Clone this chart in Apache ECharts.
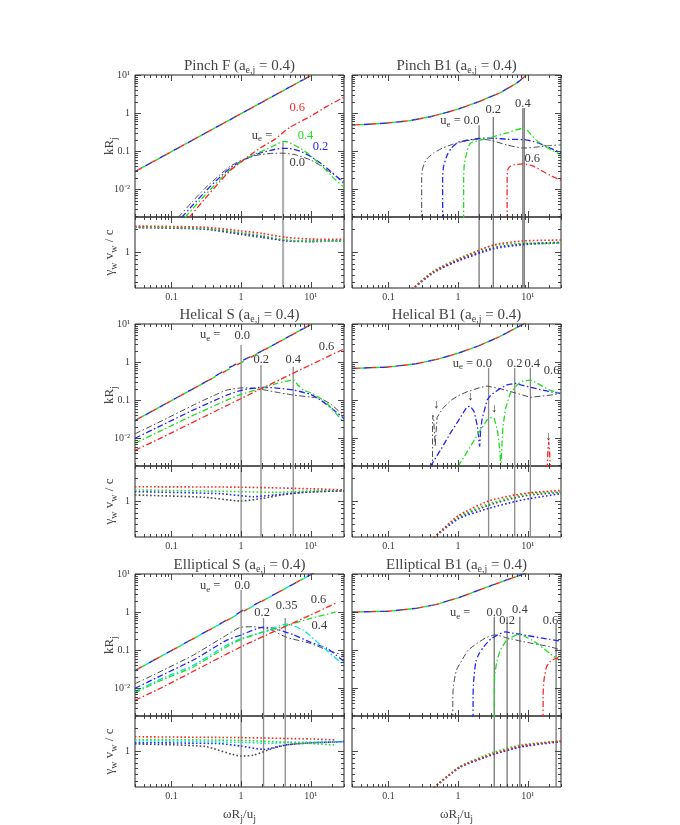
<!DOCTYPE html>
<html><head><meta charset="utf-8">
<script src="https://cdn.jsdelivr.net/npm/echarts@6/dist/echarts.min.js"></script>
<style>html,body{margin:0;padding:0;background:#fff}#c{width:680px;height:825px}</style>
</head><body><div id="c"></div>
<script>
// ---------------- axis ranges / ticks ----------------
const X_MIN = 0.03, X_MAX = 30;
const K_MIN = 0.00185, K_MAX = 10;
const G_MIN = 0.336, G_MAX = 2.89;
const xTickValues = [0.1, 1, 10];
const xTickLabels = ['0.1', '1', '10¹'];
const kTickValues = [0.01, 0.1, 1, 10];
const kTickLabels = ['10⁻²', '0.1', '1', '10¹'];
const gTickValues = [1];
const gTickLabels = ['1'];
const panelNames = ['Pinch F', 'Pinch B1', 'Helical S', 'Helical B1', 'Elliptical S', 'Elliptical B1'];
const aejValue = '0.4';

// ---------------- Pinch F ----------------
const pf_kr = [[0.03,0.029],[0.3,0.29],[3,2.9],[30,29]];
const pf_ki_00 = [[0.125,0.0018],[0.2,0.0047],[0.3,0.0103],[0.5,0.024],[0.7,0.04],[1,0.057],[1.5,0.074],[2,0.082],[3,0.088],[4,0.088],[6,0.08],[10,0.058],[15,0.038],[20,0.026],[30,0.016]];
const pf_ki_02 = [[0.14,0.0018],[0.2,0.0037],[0.3,0.0083],[0.5,0.021],[0.7,0.036],[1,0.054],[1.5,0.076],[2,0.092],[3,0.11],[4,0.118],[5,0.117],[7,0.1],[10,0.072],[15,0.043],[20,0.028],[30,0.014]];
const pf_ki_04 = [[0.156,0.0018],[0.2,0.003],[0.3,0.0068],[0.5,0.018],[0.7,0.033],[1,0.052],[1.5,0.08],[2,0.1],[3,0.14],[4,0.18],[4.5,0.176],[5,0.165],[7,0.12],[10,0.075],[15,0.038],[20,0.022],[30,0.011]];
const pf_ki_06 = [[0.18,0.0018],[0.3,0.0055],[0.5,0.016],[0.7,0.031],[1,0.052],[1.5,0.09],[2,0.13],[3,0.2],[5,0.42],[10,0.83],[17,1.5],[30,2.6]];
const pf_g_00 = [[0.03,2.1],[0.3,2.0],[1,1.7],[2,1.55],[4.4,1.42],[10,1.39],[30,1.41]];
const pf_g_02 = [[0.03,2.12],[0.3,2.02],[1,1.76],[2,1.6],[4.4,1.4],[10,1.37],[30,1.41]];
const pf_g_04 = [[0.03,2.14],[0.3,2.05],[1,1.81],[2,1.65],[4.4,1.44],[10,1.38],[30,1.41]];
const pf_g_06 = [[0.03,2.2],[0.3,2.12],[1,1.9],[2,1.76],[4.4,1.56],[10,1.48],[30,1.47]];
const pf_vlines = [[4.0,0.17]];
const pf_labels = [[2.0,0.26,'u{s|e} =',''],[6.4,1.35,'0.6','0.6'],[8.4,0.26,'0.4','0.4'],[13.8,0.127,'0.2','0.2'],[6.4,0.048,'0.0','']];

// ---------------- Pinch B1 ----------------
const pb_kr = [[0.03,0.48],[0.1,0.55],[0.2,0.63],[0.4,0.8],[0.7,1.05],[1,1.27],[2,2.0],[4,3.4],[7,6.2],[10,10.5],[15,17]];
const pb_ki_00 = [[0.3,0.0015],[0.3,0.02],[0.31,0.035],[0.35,0.06],[0.45,0.09],[0.6,0.12],[0.8,0.147],[1.2,0.18],[2.08,0.207],[3,0.19],[5,0.145],[8.7,0.12],[15,0.13],[21,0.14],[30,0.145]];
const pb_ki_02 = [[0.6,0.0015],[0.6,0.02],[0.62,0.04],[0.7,0.08],[0.8,0.12],[1,0.17],[1.5,0.2],[2,0.215],[3.2,0.22],[5,0.205],[8.7,0.2],[12,0.18],[16.8,0.144],[21,0.12],[30,0.09]];
const pb_ki_04 = [[1.2,0.0015],[1.2,0.02],[1.23,0.045],[1.35,0.1],[1.5,0.16],[2,0.19],[3,0.23],[5,0.3],[8.7,0.4],[10,0.34],[13,0.2],[17.9,0.13],[30,0.08]];
const pb_ki_06 = [[5.05,0.0015],[5.05,0.015],[5.15,0.032],[5.6,0.04],[6.5,0.044],[8.7,0.046],[12,0.04],[21,0.023],[30,0.017]];
const pb_g_00 = [[0.2,0.3],[0.44,0.53],[1.07,0.8],[3.2,1.14],[8.6,1.28],[21,1.33],[30,1.34]];
const pb_g_02 = [[0.2,0.3],[0.44,0.55],[1.07,0.78],[3.2,1.1],[8.6,1.25],[21,1.31],[30,1.33]];
const pb_g_04 = [[0.2,0.3],[0.44,0.56],[1.07,0.84],[3.2,1.22],[8.6,1.3],[21,1.3],[30,1.32]];
const pb_g_06 = [[0.2,0.3],[0.44,0.55],[1.07,0.82],[3.2,1.24],[8.6,1.4],[21,1.43],[30,1.44]];
const pb_vlines = [[2.0,0.48],[3.2,0.785],[8.5,1.35],[8.9,1.35]];
const pb_labels = [[1.06,0.62,'u{s|e} = 0.0',''],[3.2,1.2,'0.2',''],[8.5,1.8,'0.4',''],[11.6,0.064,'0.6','']];

// ---------------- Helical S ----------------
const hs_kr_00 = [[0.03,0.029],[0.35,0.34],[0.6,0.62],[1.0,1.05],[1.5,1.5],[3,2.9],[30,29]];
const hs_kr_02 = [[0.03,0.029],[0.35,0.34],[0.6,0.63],[1.0,1.06],[1.5,1.5],[3,2.9],[30,29]];
const hs_kr_04 = [[0.03,0.029],[0.3,0.29],[3,2.9],[30,29]];
const hs_kr_06 = [[0.03,0.029],[0.3,0.29],[3,2.9],[30,29]];
const hs_ki_00 = [[0.03,0.013],[0.0687,0.027],[0.207,0.074],[0.4,0.13],[0.625,0.183],[1.07,0.21],[1.5,0.205],[2,0.19],[3,0.165],[5.7,0.135],[10,0.12],[13.8,0.11],[20,0.075],[30,0.038]];
const hs_ki_02 = [[0.03,0.0099],[0.0687,0.0207],[0.207,0.055],[0.625,0.135],[1,0.18],[1.89,0.216],[3,0.21],[5.7,0.183],[10,0.14],[13.8,0.1],[20,0.06],[30,0.033]];
const hs_ki_04 = [[0.03,0.0073],[0.0687,0.0153],[0.207,0.04],[0.625,0.1],[1,0.141],[1.9,0.2],[3.3,0.275],[5.7,0.336],[6.5,0.25],[8,0.18],[10,0.155],[15,0.1],[20,0.06],[30,0.025]];
const hs_ki_06 = [[0.03,0.0048],[0.0687,0.0098],[1,0.11],[10,0.85],[30,2.2]];
const hs_g_00 = [[0.03,1.2],[0.3,1.12],[1,1.0],[2,1.08],[5,1.25],[10,1.32],[30,1.36]];
const hs_g_02 = [[0.03,1.33],[0.5,1.25],[1.5,1.14],[3,1.2],[10,1.32],[30,1.36]];
const hs_g_04 = [[0.03,1.4],[1,1.33],[3,1.3],[10,1.36],[30,1.38]];
const hs_g_06 = [[0.03,1.54],[1,1.52],[10,1.45],[30,1.4]];
const hs_vlines = [[1.0,2.8],[1.93,0.83],[5.6,0.75]];
const hs_labels = [[0.36,5.1,'u{s|e} =',''],[1.04,4.8,'0.0',''],[1.95,1.13,'0.2',''],[5.6,1.13,'0.4',''],[16.8,2.5,'0.6','']];

// ---------------- Helical B1 ----------------
const hb_kr = [[0.03,0.68],[0.1,0.74],[0.25,0.9],[0.5,1.18],[1,1.7],[2,2.7],[4,4.7],[8.7,10],[15,17]];
const hb_ki_00 = [[0.43,0.0015],[0.43,0.025],[0.435,0.04],[0.445,0.032],[0.46,0.012],[0.47,0.006],[0.48,0.012],[0.5,0.035],[0.6,0.06],[0.8,0.1],[1.0,0.13],[1.34,0.165],[2,0.21],[2.6,0.234],[4,0.2],[7,0.15],[10.9,0.118],[21,0.135],[30,0.15]];
const hb_ki_02 = [[0.4,0.0018],[0.6,0.006],[0.77,0.0133],[1.0,0.028],[1.2,0.048],[1.34,0.066],[1.5,0.069],[1.7,0.05],[1.9,0.02],[2.04,0.006],[2.1,0.015],[2.2,0.03],[2.6,0.1],[3,0.14],[4,0.2],[5,0.25],[6.6,0.275],[8,0.25],[10.9,0.216],[21,0.166],[30,0.15]];
const hb_ki_04 = [[1.0,0.0018],[1.5,0.006],[2,0.0144],[2.6,0.03],[3.0,0.035],[3.3,0.033],[3.7,0.015],[4.0,0.004],[4.1,0.0015],[4.2,0.004],[4.4,0.02],[4.8,0.06],[5.6,0.15],[7,0.25],[8.5,0.32],[10.9,0.336],[14,0.27],[21,0.18],[30,0.15]];
const hb_ki_06 = [[19,0.0015],[19.5,0.005],[20,0.008],[20.5,0.005],[21,0.002],[21.2,0.0015]];
const hb_g_00 = [[0.45,0.33],[1,0.6],[2.74,0.88],[6.5,1.1],[10.9,1.2],[30,1.3]];
const hb_g_02 = [[0.45,0.33],[1,0.58],[2.74,0.8],[6.5,0.98],[10.9,1.08],[30,1.25]];
const hb_g_04 = [[0.45,0.33],[1,0.62],[2.74,0.92],[6.5,1.15],[10.9,1.26],[30,1.32]];
const hb_g_06 = [[0.45,0.33],[1,0.64],[2.74,1.0],[6.5,1.2],[10.9,1.29],[30,1.38]];
const hb_vlines = [[2.74,0.7],[6.5,0.7],[10.9,0.7]];
const hb_labels = [[1.6,0.92,'u{s|e} = 0.0',''],[6.5,0.92,'0.2',''],[11.6,0.92,'0.4',''],[22,0.59,'0.6',''],
                   [0.485,0.074,'↓',''],[1.5,0.122,'↓',''],[3.3,0.06,'↓',''],[19.8,0.0107,'↓','']];

// ---------------- Elliptical S ----------------
const es_kr_00 = [[0.03,0.029],[0.5,0.49],[0.9,0.93],[1.2,1.27],[1.6,1.6],[3,2.9],[30,29]];
const es_kr_02 = [[0.03,0.029],[0.5,0.49],[0.9,0.92],[1.2,1.25],[1.6,1.6],[3,2.9],[30,29]];
const es_kr_035 = [[0.03,0.029],[0.3,0.29],[3,2.9],[30,29]];
const es_kr_04 = [[0.03,0.029],[0.3,0.29],[3,2.9],[30,29]];
const es_kr_06 = [[0.03,0.029],[0.3,0.29],[3,2.9],[30,29]];
const es_ki_00 = [[0.03,0.013],[0.0687,0.027],[0.207,0.074],[0.625,0.25],[1,0.4],[1.5,0.41],[2.6,0.35],[4.5,0.216],[9.9,0.15],[17.2,0.1],[30,0.072]];
const es_ki_02 = [[0.03,0.0099],[0.0687,0.0207],[0.207,0.055],[0.625,0.183],[1,0.25],[2.1,0.4],[3,0.37],[5.7,0.25],[10,0.16],[17.2,0.11],[30,0.05]];
const es_ki_035 = [[0.03,0.008],[0.0687,0.017],[0.207,0.04],[0.625,0.136],[1,0.2],[2.1,0.3],[4.5,0.48],[7.8,0.336],[13.8,0.136],[30,0.04]];
const es_ki_04 = [[0.03,0.0075],[0.0687,0.0156],[0.207,0.036],[0.625,0.122],[1,0.19],[2.1,0.3],[4.3,0.43],[9.9,0.68],[22.6,1.0]];
const es_ki_06 = [[0.03,0.0048],[0.0687,0.0098],[1,0.122],[10,0.84],[22.6,1.69]];
const es_g_00 = [[0.03,1.24],[0.3,1.15],[1,0.86],[1.5,0.88],[3,1.1],[5,1.22],[10,1.28],[30,1.33]];
const es_g_02 = [[0.03,1.29],[0.5,1.25],[1,1.16],[2.1,1.05],[4.3,1.2],[10,1.28],[30,1.33]];
const es_g_035 = [[0.03,1.37],[1,1.3],[2.5,1.26],[5,1.3],[30,1.33]];
const es_g_04 = [[0.03,1.42],[1,1.38],[5,1.3],[22.6,1.2]];
const es_g_06 = [[0.03,1.54],[1,1.5],[10,1.44],[22.6,1.4]];
const es_vlines = [[1.0,3.8],[2.1,0.7],[4.3,0.7]];
const es_labels = [[0.36,4.8,'u{s|e} =',''],[1.04,4.8,'0.0',''],[2.0,0.96,'0.2',''],[4.5,1.44,'0.35',''],[12.9,2.07,'0.6',''],[13.3,0.45,'0.4','']];

// ---------------- Elliptical B1 ----------------
const eb_kr = [[0.03,1.0],[0.1,1.05],[0.25,1.25],[0.5,1.6],[0.77,2.05],[1,2.35],[2.33,4.2],[5,7],[8.7,10],[15,16]];
const eb_ki_00 = [[0.84,0.0015],[0.84,0.006],[0.86,0.012],[0.95,0.03],[1.14,0.055],[1.4,0.1],[1.87,0.15],[2.5,0.21],[3.4,0.25],[5,0.21],[8.7,0.166],[21,0.122],[30,0.1]];
const eb_ki_02 = [[1.64,0.0015],[1.64,0.006],[1.67,0.015],[1.8,0.05],[2.0,0.08],[2.33,0.122],[3,0.2],[4.8,0.3],[6,0.28],[8.7,0.25],[21,0.19],[30,0.17]];
const eb_ki_04 = [[3.3,0.0015],[3.3,0.006],[3.35,0.02],[3.6,0.05],[4.05,0.1],[5,0.18],[7.4,0.26],[10,0.21],[13.6,0.15],[21,0.08],[30,0.05]];
const eb_ki_06 = [[16.6,0.0015],[16.6,0.006],[17,0.015],[18.5,0.035],[21,0.05],[25,0.06],[30,0.065]];
const eb_g_00 = [[0.45,0.33],[1.07,0.62],[3.2,0.91],[8,1.15],[21,1.3],[30,1.34]];
const eb_g_02 = [[0.45,0.33],[1.07,0.61],[3.2,0.9],[8,1.13],[21,1.28],[30,1.33]];
const eb_g_04 = [[0.45,0.33],[1.07,0.63],[3.2,0.96],[8,1.2],[21,1.32],[30,1.34]];
const eb_g_06 = [[0.45,0.33],[1.07,0.62],[3.2,0.92],[8,1.17],[21,1.31],[30,1.35]];
const eb_vlines = [[3.3,0.75],[5.05,0.75],[7.7,0.75],[25.5,0.5]];
const eb_labels = [[1.07,0.94,'u{s|e} =',''],[3.3,0.94,'0.0',''],[5.05,0.59,'0.2',''],[7.7,1.13,'0.4',''],[21.2,0.58,'0.6','']];

// ---------------- styling / layout ----------------
const COLORS = {'0.0':'#4a4a4a','0.2':'#2424ff','0.35':'#00e2e2','0.4':'#1fe01f','0.6':'#ff2424'};
const TEXT = '#3a3a3a';
const FONT = 'Liberation Serif';
const RICH = {s:{fontSize:9, fontFamily:FONT, lineHeight:10, verticalAlign:'bottom', fill:TEXT}};
const COL_LEFT = [135, 352], GRID_W = 209, ROW_TOP = [75, 324, 574], MAIN_H = 142, SUB_H = 71;

const panels = [
  {kr:[[pf_kr,'0.0'],[pf_kr,'0.2'],[pf_kr,'0.4'],[pf_kr,'0.6']], ki:[[pf_ki_00,'0.0'],[pf_ki_02,'0.2'],[pf_ki_04,'0.4'],[pf_ki_06,'0.6']],
   g:[[pf_g_00,'0.0'],[pf_g_02,'0.2'],[pf_g_04,'0.4'],[pf_g_06,'0.6']], v:pf_vlines, lab:pf_labels, vcol:'#b0b0b0', vw:2.2},
  {kr:[[pb_kr,'0.0'],[pb_kr,'0.2'],[pb_kr,'0.4'],[pb_kr,'0.6']], ki:[[pb_ki_00,'0.0'],[pb_ki_02,'0.2'],[pb_ki_04,'0.4'],[pb_ki_06,'0.6']],
   g:[[pb_g_00,'0.0'],[pb_g_02,'0.2'],[pb_g_04,'0.4'],[pb_g_06,'0.6']], v:pb_vlines, lab:pb_labels, vcol:'#6a6a6a', vw:1.2},
  {kr:[[hs_kr_00,'0.0'],[hs_kr_02,'0.2'],[hs_kr_04,'0.4'],[hs_kr_06,'0.6']], ki:[[hs_ki_00,'0.0'],[hs_ki_02,'0.2'],[hs_ki_04,'0.4'],[hs_ki_06,'0.6']],
   g:[[hs_g_00,'0.0'],[hs_g_02,'0.2'],[hs_g_04,'0.4'],[hs_g_06,'0.6']], v:hs_vlines, lab:hs_labels, vcol:'#8a8a8a', vw:1.3},
  {kr:[[hb_kr,'0.0'],[hb_kr,'0.2'],[hb_kr,'0.4'],[hb_kr,'0.6']], ki:[[hb_ki_00,'0.0'],[hb_ki_02,'0.2'],[hb_ki_04,'0.4'],[hb_ki_06,'0.6']],
   g:[[hb_g_00,'0.0'],[hb_g_02,'0.2'],[hb_g_04,'0.4'],[hb_g_06,'0.6']], v:hb_vlines, lab:hb_labels, vcol:'#8a8a8a', vw:1.3, sharp:true},
  {kr:[[es_kr_00,'0.0'],[es_kr_02,'0.2'],[es_kr_035,'0.35'],[es_kr_04,'0.4'],[es_kr_06,'0.6']], ki:[[es_ki_00,'0.0'],[es_ki_02,'0.2'],[es_ki_035,'0.35'],[es_ki_04,'0.4'],[es_ki_06,'0.6']],
   g:[[es_g_00,'0.0'],[es_g_02,'0.2'],[es_g_035,'0.35'],[es_g_04,'0.4'],[es_g_06,'0.6']], v:es_vlines, lab:es_labels, vcol:'#8a8a8a', vw:1.3},
  {kr:[[eb_kr,'0.0'],[eb_kr,'0.2'],[eb_kr,'0.4'],[eb_kr,'0.6']], ki:[[eb_ki_00,'0.0'],[eb_ki_02,'0.2'],[eb_ki_04,'0.4'],[eb_ki_06,'0.6']],
   g:[[eb_g_00,'0.0'],[eb_g_02,'0.2'],[eb_g_04,'0.4'],[eb_g_06,'0.6']], v:eb_vlines, lab:eb_labels, vcol:'#6a6a6a', vw:1.2}
];

const grids = [], xAxes = [], yAxes = [], series = [];
function logAxis(gi, min, max) {
  return {type:'log', logBase:10, gridIndex:gi, min:min, max:max,
    axisLine:{show:false}, axisTick:{show:false}, axisLabel:{show:false}, splitLine:{show:false}, minorTick:{show:false}};
}
function tickSeries(gi, yMin, yMax, yVals, yLabs, showY, showX) {
  return {type:'custom', xAxisIndex:gi, yAxisIndex:gi, silent:true, clip:false, z:10, data:[[1,1]],
    renderItem: function (params, api) {
      const cs = params.coordSys;
      const L = cs.x, R = cs.x + cs.width, T = cs.y, B = cs.y + cs.height;
      const ch = [];
      const ln = (x1,y1,x2,y2) => ch.push({type:'line', shape:{x1:x1,y1:y1,x2:x2,y2:y2}, style:{stroke:'#333', lineWidth:0.9}});
      for (let e = -3; e <= 1; e++) for (let m = 1; m <= 9; m++) {
        const v = m * Math.pow(10, e);
        if (v >= X_MIN && v <= X_MAX) {
          const px = Math.round(api.coord([v, yMin])[0]) + 0.5;
          const len = m === 1 ? 6 : 3;
          ln(px, B, px, B - len); ln(px, T, px, T + len);
        }
        if (v >= yMin && v <= yMax) {
          const py = Math.round(api.coord([X_MIN, v])[1]) + 0.5;
          const len = m === 1 ? 6 : 3;
          ln(L, py, L + len, py); ln(R, py, R - len, py);
        }
      }
      if (showY) yVals.forEach((v, i) => {
        const py = api.coord([X_MIN, v])[1];
        ch.push({type:'text', x:L - 5, y:py, style:{text:yLabs[i], fill:TEXT, fontSize:10, fontFamily:FONT, align:'right', verticalAlign:'middle', textAlign:'right', textVerticalAlign:'middle'}});
      });
      if (showX) xTickValues.forEach((v, i) => {
        const px = api.coord([v, yMin])[0];
        ch.push({type:'text', x:px, y:B + 9, style:{text:xTickLabels[i], fill:TEXT, fontSize:10, fontFamily:FONT, align:'center', verticalAlign:'middle', textAlign:'center', textVerticalAlign:'middle'}});
      });
      return {type:'group', children:ch};
    }};
}
function labelSeries(gi, items) {
  return {type:'custom', xAxisIndex:gi, yAxisIndex:gi, silent:true, clip:false, z:20,
    data: items.map(it => [it[0], it[1]]),
    renderItem: function (params, api) {
      const it = items[params.dataIndex];
      const p = api.coord([api.value(0), api.value(1)]);
      return {type:'text', x:p[0], y:p[1], style:{text:it[2], fill: it[3] ? COLORS[it[3]] : TEXT, fontSize:12.5, fontFamily:FONT,
        lineHeight:16, rich:RICH, align:'center', verticalAlign:'middle', textAlign:'center', textVerticalAlign:'middle'}};
    }};
}
function lineS(gi, data, color, type, width, extra) {
  return Object.assign({type:'line', xAxisIndex:gi, yAxisIndex:gi, data:data, showSymbol:false, symbol:'none', silent:true,
    clip:true, smooth:0.2, lineStyle:{color:color, width:width, type:type}, z:3}, extra || {});
}

panels.forEach((p, pi) => {
  const col = pi % 2, row = Math.floor(pi / 2);
  const gm = grids.length, gs = gm + 1;
  grids.push({left:COL_LEFT[col], top:ROW_TOP[row], width:GRID_W, height:MAIN_H, show:true, borderColor:'#222', borderWidth:1, outerBoundsMode:'none'});
  grids.push({left:COL_LEFT[col], top:ROW_TOP[row] + MAIN_H, width:GRID_W, height:SUB_H, show:true, borderColor:'#222', borderWidth:1, outerBoundsMode:'none'});
  xAxes.push(logAxis(gm, X_MIN, X_MAX)); yAxes.push(logAxis(gm, K_MIN, K_MAX));
  xAxes.push(logAxis(gs, X_MIN, X_MAX)); yAxes.push(logAxis(gs, G_MIN, G_MAX));
  p.v.forEach(v => {
    series.push(lineS(gm, [[v[0], v[1]], [v[0], K_MIN]], p.vcol, 'solid', p.vw, {smooth:false, z:2}));
    series.push(lineS(gs, [[v[0], G_MAX], [v[0], G_MIN]], p.vcol, 'solid', p.vw, {smooth:false, z:2}));
  });
  const n = p.kr.length, D = 4;
  p.kr.forEach((c, i) => series.push(lineS(gm, c[0], COLORS[c[1]], [D, D * (n - 1)], 1.4, {smooth:false, lineStyle:{color:COLORS[c[1]], width:1.4, type:[D, D * (n - 1)], dashOffset:i * D}})));
  p.ki.forEach(c => series.push(lineS(gm, c[0], COLORS[c[1]], [6, 2.5, 1.5, 2.5], c[1] === '0.0' ? 1 : 1.3, p.sharp ? {smooth:false} : {})));
  p.g.forEach(c => series.push(lineS(gs, c[0], COLORS[c[1]], [1.6, 2.2], 1.6)));
  series.push(tickSeries(gm, K_MIN, K_MAX, kTickValues, kTickLabels, col === 0, false));
  series.push(tickSeries(gs, G_MIN, G_MAX, gTickValues, gTickLabels, col === 0, true));
  series.push(labelSeries(gm, p.lab));
});

const graphics = [];
const titleRich = {s:{fontSize:10, fontFamily:FONT, lineHeight:10, verticalAlign:'bottom', fill:'#444'}};
panelNames.forEach((nm, pi) => {
  const col = pi % 2, row = Math.floor(pi / 2);
  graphics.push({type:'text', x:COL_LEFT[col] + GRID_W / 2, y:ROW_TOP[row] - 9,
    style:{text:nm + ' (a{s|e,j} = ' + aejValue + ')', fill:'#444', fontSize:15, fontFamily:FONT, lineHeight:19, rich:titleRich,
      align:'center', verticalAlign:'middle', textAlign:'center', textVerticalAlign:'middle'}});
});
for (let row = 0; row < 3; row++) {
  graphics.push({type:'text', x:110, y:ROW_TOP[row] + MAIN_H / 2, rotation:Math.PI / 2,
    style:{text:'kR{s|j}', fill:'#444', fontSize:13, fontFamily:FONT, lineHeight:18, rich:titleRich, align:'center', verticalAlign:'middle', textAlign:'center', textVerticalAlign:'middle'}});
  graphics.push({type:'text', x:110, y:ROW_TOP[row] + MAIN_H + SUB_H / 2, rotation:Math.PI / 2,
    style:{text:'γ{s|w} v{s|w} / c', fill:'#444', fontSize:13, fontFamily:FONT, lineHeight:18, rich:titleRich, align:'center', verticalAlign:'middle', textAlign:'center', textVerticalAlign:'middle'}});
}
[0, 1].forEach(col => graphics.push({type:'text', x:COL_LEFT[col] + GRID_W / 2, y:815,
  style:{text:'ωR{s|j}/u{s|j}', fill:'#444', fontSize:13, fontFamily:FONT, lineHeight:18, rich:titleRich, align:'center', verticalAlign:'middle', textAlign:'center', textVerticalAlign:'middle'}}));

const chart = echarts.init(document.getElementById('c'), null, {renderer:'canvas', width:680, height:825});
chart.setOption({animation:false, backgroundColor:'#fff', grid:grids, xAxis:xAxes, yAxis:yAxes, series:series, graphic:{elements:graphics}});
</script></body></html>
